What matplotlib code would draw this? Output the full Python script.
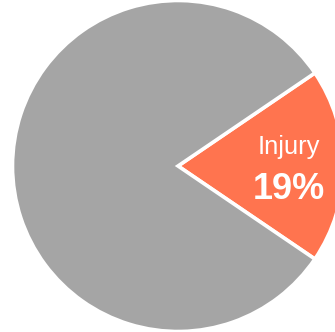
import matplotlib.pyplot as plt

# share of cases by cause
labels = ["Injury", "Other"]
shares = [19, 81]
colors = ["#FF744F", "#A5A5A5"]

plt.rcParams['font.family'] = ['Liberation Sans', 'DejaVu Sans']

W, H = 335, 332
fig = plt.figure(figsize=(W / 100, H / 100), dpi=100)

# pie centre and radius in pixels
cx, cy, r = 178, 166, 165.5
ax = fig.add_axes([(cx - r) / W, (H - cy - r) / H, 2 * r / W, 2 * r / H])
ax.set_xlim(-1, 1)
ax.set_ylim(-1, 1)
ax.set_aspect('equal')
ax.axis('off')

start = -shares[0] / sum(shares) * 360 / 2
ax.pie(shares, colors=colors, startangle=start, counterclock=True,
       radius=1, center=(0, 0), frame=False,
       wedgeprops=dict(edgecolor='white', linewidth=2.6))
ax.set_xlim(-1, 1)
ax.set_ylim(-1, 1)

ax.text(0.668, 0.073, labels[0], ha='center', va='baseline',
        color='white', fontsize=18.4)
ax.text(0.668, -0.20, f"{shares[0]}%", ha='center', va='baseline',
        color='white', fontsize=26, fontweight='bold')

fig.savefig("out.png", dpi=100)
